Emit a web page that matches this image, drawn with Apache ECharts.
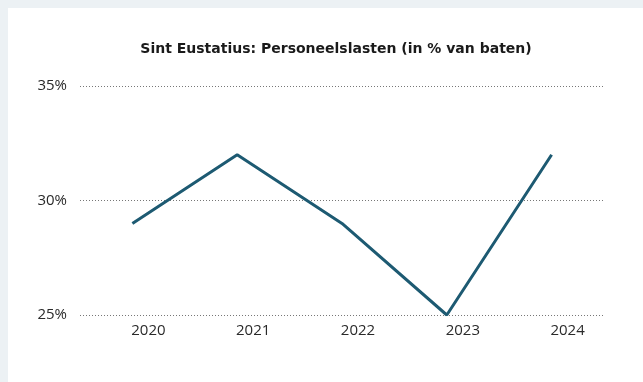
<!DOCTYPE html>
<html>
<head>
<meta charset="utf-8">
<script src="https://cdn.jsdelivr.net/npm/echarts@6/dist/echarts.min.js"></script>
<style>
  html, body { margin: 0; padding: 0; background: #ecf1f4; }
  #wrap { position: relative; width: 643px; height: 382px; overflow: hidden; }
  #chart { position: absolute; left: 8px; top: 8px; width: 635px; height: 374px; background: #ffffff; }
</style>
</head>
<body>
<div id="wrap"><div id="chart"></div></div>
<script>
const years = ['2020', '2021', '2022', '2023', '2024'];
const personeelslasten = [29, 32, 29, 25, 32];
const yTicks = { min: 25, max: 35, step: 5 };

const chart = echarts.init(document.getElementById('chart'));
const titleFont = '"DejaVu Sans", sans-serif';
const labelFont = '"Open Sans", sans-serif';

chart.setOption({
  animation: false,
  title: {
    text: 'Sint Eustatius: Personeelslasten (in % van baten)',
    left: 323,
    top: 29,
    textAlign: 'center',
    textStyle: { fontFamily: titleFont, fontSize: 14, fontWeight: 'bold', color: '#1a1a1a' }
  },
  grid: { left: 72, right: 39, top: 78, bottom: 67 },
  xAxis: {
    type: 'category',
    data: years,
    boundaryGap: true,
    axisLine: { show: false },
    axisTick: { show: false },
    axisLabel: {
      fontFamily: labelFont, fontSize: 15, color: '#2a2a2a', margin: 8,
      padding: [0, 0, 0, 32]
    }
  },
  yAxis: {
    type: 'value',
    min: yTicks.min,
    max: yTicks.max,
    interval: yTicks.step,
    axisLine: { show: false },
    axisTick: { show: false },
    axisLabel: { fontFamily: labelFont, fontSize: 15, color: '#2a2a2a', margin: 13, formatter: '{value}%' },
    splitLine: { lineStyle: { type: [1, 2], color: '#777777', width: 1 } }
  },
  series: [{
    type: 'line',
    data: personeelslasten,
    symbol: 'none',
    lineStyle: { color: '#1d5a72', width: 3 }
  }]
});
</script>
</body>
</html>
